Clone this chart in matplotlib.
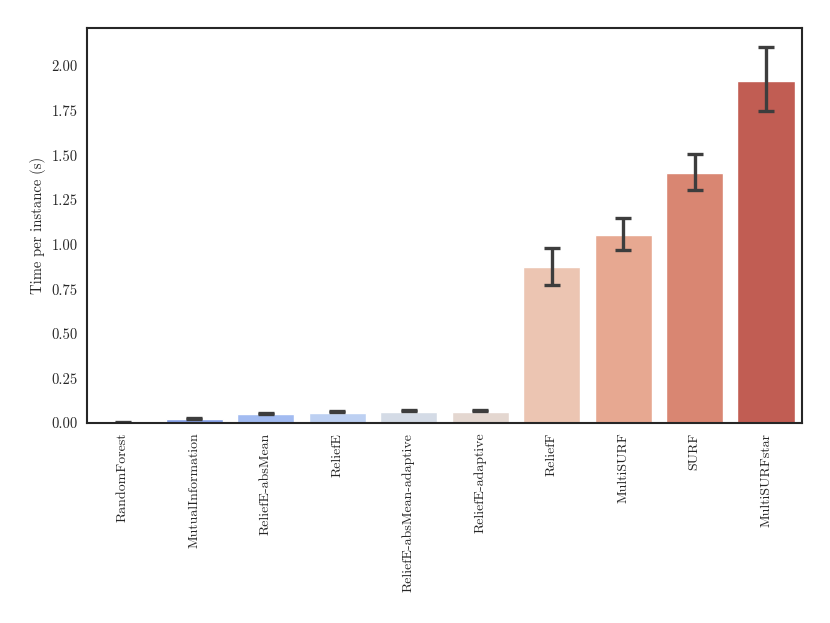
import matplotlib
matplotlib.use("Agg")
import matplotlib.pyplot as plt
import seaborn as sns
import numpy as np

methods = ["RandomForest", "MutualInformation", "ReliefE-absMean", "ReliefE",
           "ReliefE-absMean-adaptive", "ReliefE-adaptive", "ReliefF",
           "MultiSURF", "SURF", "MultiSURFstar"]
mean_time = [0.003, 0.022, 0.048, 0.054, 0.060, 0.064, 0.874, 1.053, 1.400, 1.916]
ci_low = [0.002, 0.024, 0.052, 0.060, 0.066, 0.069, 0.773, 0.969, 1.305, 1.748]
ci_high = [0.004, 0.030, 0.058, 0.066, 0.072, 0.075, 0.980, 1.148, 1.507, 2.106]

sns.set_style("white")
plt.rcParams["font.family"] = ["cmr10", "DejaVu Serif"]
plt.rcParams["axes.formatter.use_mathtext"] = True
plt.rcParams["axes.unicode_minus"] = False

fig = plt.figure(figsize=(8.3, 6.23), dpi=100)
ax = fig.add_axes([0.105, 0.321, 0.861, 0.634])

sns.barplot(x=methods, y=mean_time, hue=methods, palette="coolwarm",
            legend=False, ax=ax)

# asymmetric confidence intervals, drawn on top of the bars
x = np.arange(len(methods))
mid = [(l + h) / 2 for l, h in zip(ci_low, ci_high)]
half = [(h - l) / 2 for l, h in zip(ci_low, ci_high)]
ax.errorbar(x, mid, yerr=half, fmt="none", ecolor="#3d3d3d",
            elinewidth=2.4, capsize=6, capthick=2.4)

ax.set_ylim(0, 2.213)
ax.set_xlim(-0.5, len(methods) - 0.5)
ticks = np.arange(0, 2.01, 0.25)
ax.set_yticks(ticks)
ax.set_yticklabels(["%.2f" % v for v in ticks], fontsize=10.5)
ax.set_ylabel("Time per instance (s)", fontsize=10.5)
ax.tick_params(axis="x", labelrotation=90, labelsize=10)
for s in ax.spines.values():
    s.set_color("#262626")
    s.set_linewidth(1.5)

fig.savefig("out.png", dpi=100)
